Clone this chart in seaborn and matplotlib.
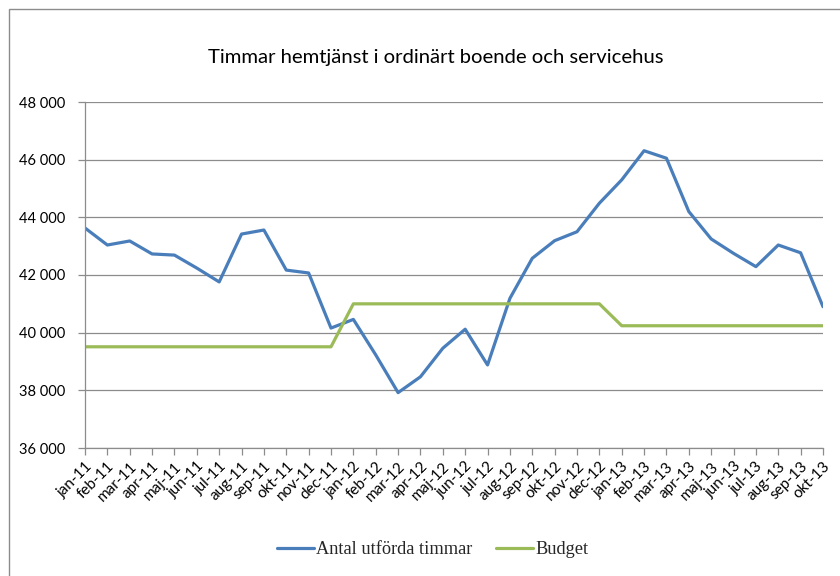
import matplotlib
matplotlib.use("Agg")
import matplotlib.pyplot as plt
import seaborn as sns
import pandas as pd
from matplotlib.patches import Rectangle
from matplotlib.ticker import FuncFormatter, MultipleLocator

months = ["jan-11", "feb-11", "mar-11", "apr-11", "maj-11", "jun-11", "jul-11", "aug-11",
          "sep-11", "okt-11", "nov-11", "dec-11", "jan-12", "feb-12", "mar-12", "apr-12",
          "maj-12", "jun-12", "jul-12", "aug-12", "sep-12", "okt-12", "nov-12", "dec-12",
          "jan-13", "feb-13", "mar-13", "apr-13", "maj-13", "jun-13", "jul-13", "aug-13",
          "sep-13", "okt-13"]

utforda = [43630, 43040, 43180, 42730, 42690, 42240, 41760, 43420,
           43560, 42170, 42070, 40160, 40460, 39230, 37920, 38470,
           39460, 40120, 38880, 41190, 42580, 43190, 43500, 44490,
           45300, 46310, 46050, 44200, 43250, 42750, 42290, 43040,
           42770, 40900]

budget = [39510] * 12 + [41000] * 12 + [40240] * 10

series_names = ["Antal utförda timmar", "Budget"]
colors = ["#4A7EBB", "#9BBB59"]

df = pd.DataFrame({
    "month": months * 2,
    "value": utforda + budget,
    "serie": [series_names[0]] * len(months) + [series_names[1]] * len(months),
})

sns.set_theme(style="white")
plt.rcParams["font.family"] = ["Lato", "DejaVu Sans"]

fig = plt.figure(figsize=(8.4, 5.76), dpi=100)
ax = fig.add_axes([85 / 840, 1 - 448 / 576, (823 - 85) / 840, (448 - 102) / 576])

sns.lineplot(data=df, x="month", y="value", hue="serie", palette=colors,
             linewidth=2.3, ax=ax, legend=True, sort=False)

ax.set_xlim(0, len(months) - 1)
ax.set_ylim(36000, 48000)
ax.yaxis.set_major_locator(MultipleLocator(2000))
ax.yaxis.set_major_formatter(FuncFormatter(lambda v, p: f"{int(v):,}".replace(",", " ")))
ax.grid(axis="y", color="#8c8c8c", linewidth=0.9)
ax.set_axisbelow(True)
ax.set_xlabel("")
ax.set_ylabel("")

for s in ["top", "right"]:
    ax.spines[s].set_visible(False)
for s in ["left", "bottom"]:
    ax.spines[s].set_color("#8c8c8c")
    ax.spines[s].set_linewidth(0.9)

ax.tick_params(axis="both", which="major", direction="out", length=5, width=0.9,
               color="#8c8c8c", labelsize=10.5, labelcolor="black", left=True, bottom=True)
ax.tick_params(axis="y", pad=9)
ax.tick_params(axis="x", pad=3, labelsize=11)
ax.set_xticks(range(len(months)))
ax.set_xticklabels(months, rotation=45, ha="right", rotation_mode="anchor")

leg = ax.legend(loc="center", bbox_to_anchor=(433 / 840, 1 - 550 / 576),
                bbox_transform=fig.transFigure, ncol=2, frameon=False,
                prop={"family": "Liberation Serif", "size": 13.2},
                handlelength=2.0, columnspacing=1.3, handletextpad=0.15)
for line in leg.get_lines():
    line.set_linewidth(2.3)

fig.text(436 / 840, 1 - 57 / 576, "Timmar hemtjänst i ordinärt boende och servicehus",
         ha="center", va="center", fontsize=14.6, color="black")

fig.patches.append(Rectangle((9 / 840, -0.05), 1.1, 1 - 9 / 576 + 0.05,
                             transform=fig.transFigure, fill=False,
                             edgecolor="#8c8c8c", linewidth=1.0, figure=fig))

fig.savefig("out.png", dpi=100)
